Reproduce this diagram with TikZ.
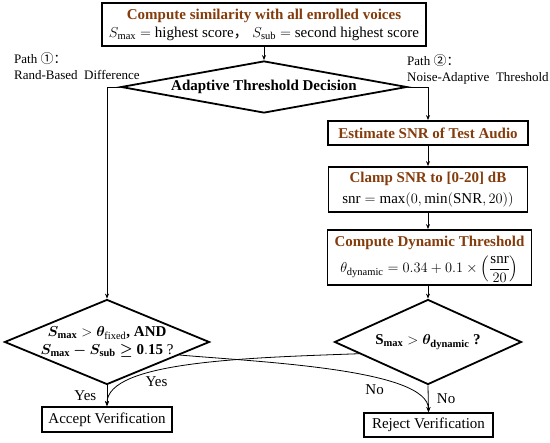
\documentclass[tikz,border=0pt]{standalone}
\usepackage{fontspec}
\setmainfont{Liberation Serif}
\newfontfamily\cjkfont{Noto Sans CJK SC}
\usepackage{amsmath}
\usepackage{bm}
\usetikzlibrary{shapes.geometric, arrows.meta, positioning, calc}
\definecolor{flowBrown}{HTML}{843C0C}
\newcommand{\flowhead}[1]{\textcolor{flowBrown}{\textbf{#1}}}

\begin{document}
\begin{tikzpicture}[
  x=1pt, y=-1pt,
  every node/.style={font=\fontsize{15}{18}\selectfont},
  procbox/.style={draw, line width=1.8pt, rectangle, align=center, inner sep=0pt},
  decbox/.style={draw, line width=1.8pt, diamond, inner sep=0pt},
  pathnote/.style={anchor=north west, align=left, inner sep=0pt,
    font=\fontsize{13}{16}\selectfont},
  flowline/.style={line width=0.8pt, -{Stealth[length=5pt, width=4pt]}}]
  \useasboundingbox (0,0) rectangle (550,443);
  % Top box and first decision
  \node[procbox, minimum width=324, minimum height=43] (sim) at (264,24.5)
    {\flowhead{Compute similarity with all enrolled voices}\\
     $S_{\max} =$ highest score{\cjkfont ，} $S_{\mathrm{sub}} =$ second highest score};
  \node[decbox, aspect=5.5, minimum width=286, minimum height=52] (adapt) at (264,87)
    {\textbf{Adaptive Threshold Decision}};
  \node[pathnote] (pathone) at (14,52) {Path {\cjkfont ①：}\\Rand-Based\ \ Difference};
  \node[pathnote] (pathtwo) at (407,54) {Path {\cjkfont ②：}\\Noise-Adaptive\ \ Threshold};
  % Path 2 boxes
  \node[procbox, minimum width=200, minimum height=24] (snr) at (428,133)
    {\flowhead{Estimate SNR of Test Audio}};
  \node[procbox, minimum width=199, minimum height=45] (clamp) at (428,189.5)
    {\flowhead{Clamp SNR to [0-20] dB}\\[3pt]
     $\mathrm{snr} = \max(0,\min(\mathrm{SNR},20))$};
  \node[procbox, minimum width=204, minimum height=55] (dyn) at (429.5,257.5) {};
  \node[inner sep=0pt] (dyntitle) at (429.5,242.5) {\flowhead{Compute Dynamic Threshold}};
  \node[inner sep=0pt] (dynformula) at (429.5,269.5)
    {$\theta_{\mathrm{dynamic}} = 0.34 + 0.1\times\left(\dfrac{\mathrm{snr}}{20}\right)$};
  % Decisions
  \node[decbox, minimum width=205, minimum height=85] (fixdec) at (107,342) {};
  \node[align=center, inner sep=0pt, font=\fontsize{15}{18}\selectfont\bfseries] (fixtxt) at (fixdec)
    {$\bm{S}_{\mathbf{max}} > \bm{\theta}_{\mathrm{fixed}}$, AND\\
     $\bm{S}_{\mathbf{max}} \bm{-} \bm{S}_{\mathbf{sub}} \bm{\geq} \mathbf{0.15}$ \textmd{?}};
  \node[decbox, aspect=2.2, minimum width=187, minimum height=85] (dyndec) at (428,342)
    {\textbf{$\mathbf{S}_{\mathbf{max}} > \bm{\theta}_{\mathbf{dynamic}}$ ?}};
  % Results
  \node[procbox, minimum width=130, minimum height=25] (accept) at (107,419.5) {Accept Verification};
  \node[procbox, minimum width=129, minimum height=24] (reject) at (428.5,425) {Reject Verification};
  % Connectors
  \draw[flowline] (sim.south) -- (adapt.north);
  \draw[flowline] (adapt.west) -| (fixdec.north);
  \draw[flowline] (adapt.east) -| (snr.north);
  \draw[flowline] (snr) -- (clamp);
  \draw[flowline] (clamp) -- (clamp.south |- dyn.north);
  \draw[flowline] (dyn.south -| dyndec.north) -- (dyndec.north);
  \draw[flowline] (fixdec.south) -- node[left=7pt] {Yes} (accept.north);
  \draw[flowline] (dyndec.south) -- node[right=5pt] {No} (reject.north);
  \coordinate (fixout) at ($(fixdec.east)!0.3!(fixdec.south)$);
  \coordinate (dynout) at ($(dyndec.west)!0.27!(dyndec.south)$);
  \draw[flowline] (fixout) .. controls +(81,7) and +(0,-43) ..
    node[pos=0.65, below=2pt, xshift=-3pt] {No} (reject.north);
  \draw[flowline] (dynout) .. controls +(-110,4) and +(0,-45) ..
    node[pos=0.63, below=2pt] {Yes} (accept.north);
\end{tikzpicture}
\end{document}
